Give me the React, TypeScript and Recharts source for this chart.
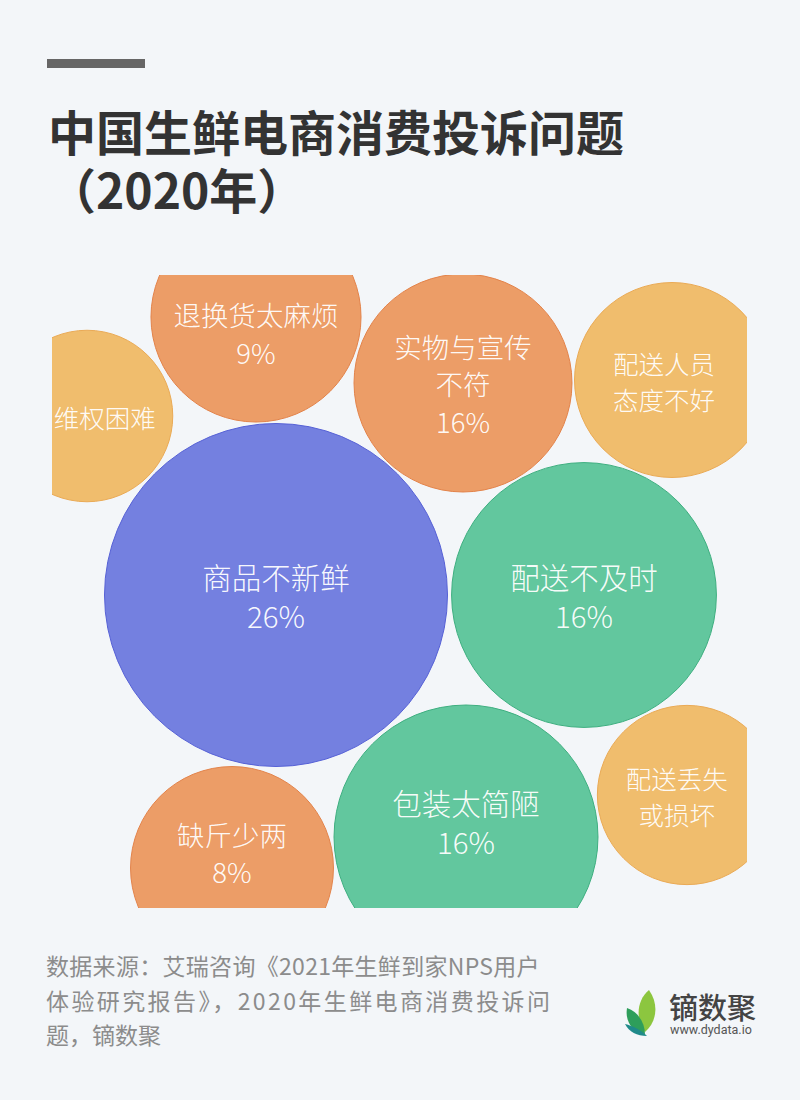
import React from 'react';
import { ScatterChart, Scatter, XAxis, YAxis, ZAxis } from 'recharts';

// bubble layout (chart units = plot pixels), names, shown percentages, bubble weights
const names = [
  '维权困难',
  '退换货太麻烦',
  '实物与宣传\n不符',
  '配送人员\n态度不好',
  '商品不新鲜',
  '配送不及时',
  '缺斤少两',
  '包装太简陋',
  '配送丢失\n或损坏',
];
const percents: (number | null)[] = [null, 9, 16, null, 26, 16, 8, 16, null];
const bubbleWeight = [6.5, 9.75, 10.5, 8.4, 26, 15.5, 9.1, 15.4, 7.1];
const posX = [35, 204, 411, 620, 224, 532, 180, 414, 635];
const posY = [141, 42, 108, 105, 320, 320, 593, 562, 520];

const PLOT_W = 695;
const PLOT_H = 633;
const MAX_R = 171.5;

const palette: Record<string, { fill: string; stroke: string }> = {
  blue: { fill: '#7480E0', stroke: '#5661D6' },
  green: { fill: '#62C79E', stroke: '#3EAF80' },
  orange: { fill: '#EC9D67', stroke: '#E3834A' },
  yellow: { fill: '#F0BD6D', stroke: '#EAAA55' },
};
const tone = ['yellow', 'orange', 'orange', 'yellow', 'blue', 'green', 'orange', 'green', 'yellow'];

const data = names.map((name, i) => ({
  name,
  pct: percents[i],
  x: posX[i],
  y: posY[i],
  z: bubbleWeight[i],
  idx: i,
}));

const cjk = '"Noto Sans CJK SC", "Noto Sans", sans-serif';

const BubbleShape = (props: any) => {
  const { cx, cy, size, payload } = props;
  const r = Math.sqrt(Math.max(size, 0) / Math.PI);
  const c = palette[tone[payload.idx]];
  const lines: string[] = payload.name.split('\n');
  if (payload.pct != null) lines.push(`${payload.pct}%`);
  const fs = r > 125 ? 29.5 : r >= 100 ? 27.5 : 25.5;
  const lh = r > 125 ? 39 : r >= 100 ? 37.5 : 36;
  // keep the label inside the visible part of a clipped bubble
  const visTop = Math.max(cy - r, 0);
  const visBot = Math.min(cy + r, PLOT_H);
  const mid = (cy + (visTop + visBot) / 2) / 2;
  const start = mid - ((lines.length - 1) * lh) / 2;
  const visL = Math.max(cx - r, 0);
  const visR = Math.min(cx + r, PLOT_W);
  const tx = cx * 0.3 + ((visL + visR) / 2) * 0.7;
  return (
    <g>
      <circle cx={cx} cy={cy} r={r} fill={c.fill} stroke={c.stroke} strokeWidth={1} />
      {lines.map((t, k) => (
        <text
          key={k}
          x={tx}
          y={start + k * lh}
          textAnchor="middle"
          dominantBaseline="central"
          fill="#FFFFFF"
          fillOpacity={0.96}
          fontSize={fs}
          fontFamily={cjk}
          fontWeight={300}
        >
          {t}
        </text>
      ))}
    </g>
  );
};

const Logo = () => (
  <svg width={44} height={50} viewBox="0 0 44 50" style={{ position: 'absolute', left: 623, top: 988 }}>
    <path d="M26 2 C 14 12, 12 30, 22 44 C 34 34, 36 16, 26 2 Z" fill="#8CC63F" />
    <path d="M4 20 C 2 32, 8 44, 22 46 C 22 36, 16 24, 4 20 Z" fill="#2E9E5B" />
    <path d="M2 36 C 6 44, 14 48, 24 48 C 18 42, 10 38, 2 36 Z" fill="#1F8A8A" />
  </svg>
);

const titleStyle: React.CSSProperties = {
  position: 'absolute',
  left: 48,
  fontSize: 48,
  lineHeight: '56px',
  height: 56,
  fontWeight: 700,
  color: '#333333',
  whiteSpace: 'nowrap',
};

const srcStyle: React.CSSProperties = {
  position: 'absolute',
  left: 46,
  fontSize: 23,
  lineHeight: '32px',
  height: 32,
  color: '#8C8C8C',
  whiteSpace: 'nowrap',
};

export default function App() {
  return (
    <div
      style={{
        position: 'absolute',
        left: 0,
        top: 0,
        width: 800,
        height: 1100,
        background: '#F3F6F9',
        fontFamily: cjk,
        overflow: 'hidden',
      }}
    >
      <div style={{ position: 'absolute', left: 47, top: 59, width: 98, height: 9, background: '#666666' }} />
      <div style={{ ...titleStyle, top: 102 }}>中国生鲜电商消费投诉问题</div>
      <div style={{ ...titleStyle, top: 160 }}>（2020年）</div>

      <div style={{ position: 'absolute', left: 52, top: 275, width: PLOT_W, height: PLOT_H, overflow: 'hidden' }}>
        <ScatterChart width={PLOT_W} height={PLOT_H} margin={{ top: 0, right: 0, bottom: 0, left: 0 }}>
          <XAxis type="number" dataKey="x" domain={[0, PLOT_W]} hide />
          <YAxis type="number" dataKey="y" domain={[0, PLOT_H]} reversed hide />
          <ZAxis type="number" dataKey="z" domain={[0, 26]} range={[0, Math.PI * MAX_R * MAX_R]} />
          <Scatter data={data} shape={BubbleShape} isAnimationActive={false} />
        </ScatterChart>
      </div>

      <div style={{ ...srcStyle, top: 949, letterSpacing: '0.3px' }}>数据来源：艾瑞咨询《2021年生鲜到家NPS用户</div>
      <div style={{ ...srcStyle, top: 984, letterSpacing: '2.4px' }}>体验研究报告》，2020年生鲜电商消费投诉问</div>
      <div style={{ ...srcStyle, top: 1018 }}>题，镝数聚</div>

      <Logo />
      <div
        style={{
          position: 'absolute',
          left: 669,
          top: 991,
          fontSize: 29,
          lineHeight: '30px',
          height: 30,
          fontWeight: 500,
          color: '#444444',
          whiteSpace: 'nowrap',
        }}
      >
        镝数聚
      </div>
      <div
        style={{
          position: 'absolute',
          left: 670,
          top: 1023,
          fontSize: 12.5,
          lineHeight: '14px',
          height: 14,
          color: '#555555',
          fontFamily: 'Roboto, sans-serif',
          whiteSpace: 'nowrap',
        }}
      >
        www.dydata.io
      </div>
    </div>
  );
}
